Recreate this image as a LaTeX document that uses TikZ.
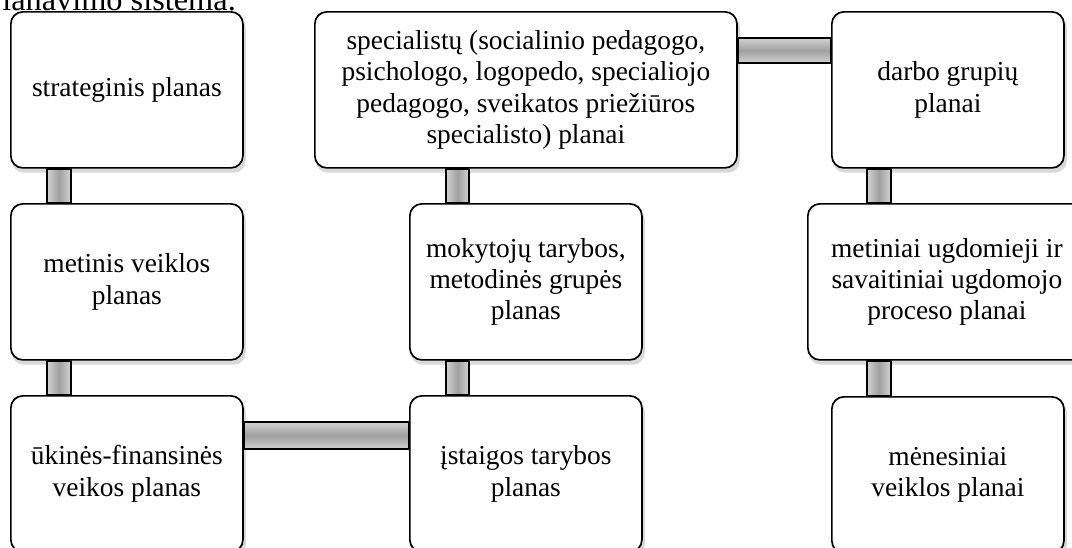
\documentclass[tikz,border=0pt]{standalone}
\usepackage{fontspec}
\setmainfont{Liberation Serif}
\usetikzlibrary{calc,backgrounds}

\tikzset{
  box/.style={draw=black, line width=1.2pt, fill=white, rounded corners=0.3cm,
    anchor=north west, inner sep=0pt, minimum width=5.8cm, minimum height=3.9cm,
    align=center, font=\fontsize{19.5}{22.2}\selectfont},
  boxshadow/.style={fill=gray!30, rounded corners=0.3cm},
  vbar/.style={draw=black, line width=1.2pt, left color=gray!35, right color=gray!35, middle color=gray!75},
  hbar/.style={draw=black, line width=1.2pt, top color=gray!35, bottom color=gray!35, middle color=gray!75}
}

\begin{document}
\begin{tikzpicture}[line cap=round,line join=round,x=0.025cm,y=-0.025cm]
\useasboundingbox (0,0) rectangle (1072,547);
\node[anchor=base west, inner sep=0pt, font=\fontsize{23}{26}\selectfont] (title) at (-16,10) {Planavimo sistema.};
\node[box] (strat) at (10,11) {strateginis planas};
\node[box] (metinis) at (10,203) {metinis veiklos\\planas};
\node[box] (ukines) at (10,395) {ūkinės-finansinės\\veikos planas};
\node[box, minimum width=10.55cm] (spec) at (314,11) {specialistų (socialinio pedagogo,\\psichologo, logopedo, specialiojo\\pedagogo, sveikatos priežiūros\\specialisto) planai};
\node[box] (mokyt) at (409,203) {mokytojų tarybos,\\metodinės grupės\\planas};
\node[box] (istaig) at (409,395) {įstaigos tarybos\\planas};
\node[box] (darbo) at (831,11) {darbo grupių\\planai};
\node[box, minimum width=6.95cm] (metiniai) at (807,203) {metiniai ugdomieji ir\\savaitiniai ugdomojo\\proceso planai};
\node[box] (menes) at (831,396) {mėnesiniai\\veiklos planai};
\begin{scope}[on background layer]
\foreach \n in {strat,metinis,ukines,spec,mokyt,istaig,darbo,metiniai,menes}
  \fill[boxshadow] ($(\n.north west)+(2,4)$) rectangle ($(\n.south east)+(2,4)$);
\end{scope}
\draw[vbar] (47,0 |- strat.south) rectangle (71,0 |- metinis.north);
\draw[vbar] (47,0 |- metinis.south) rectangle (71,0 |- ukines.north);
\draw[hbar] (ukines.east |- 0,422) rectangle (istaig.west |- 0,449);
\draw[vbar] (446,0 |- mokyt.south) rectangle (469,0 |- istaig.north);
\draw[vbar] (446,0 |- spec.south) rectangle (469,0 |- mokyt.north);
\draw[hbar] (spec.east |- 0,38) rectangle (darbo.west |- 0,63);
\draw[vbar] (867,0 |- darbo.south) rectangle (891,0 |- metiniai.north);
\draw[vbar] (867,0 |- metiniai.south) rectangle (891,0 |- menes.north);
\end{tikzpicture}
\end{document}
